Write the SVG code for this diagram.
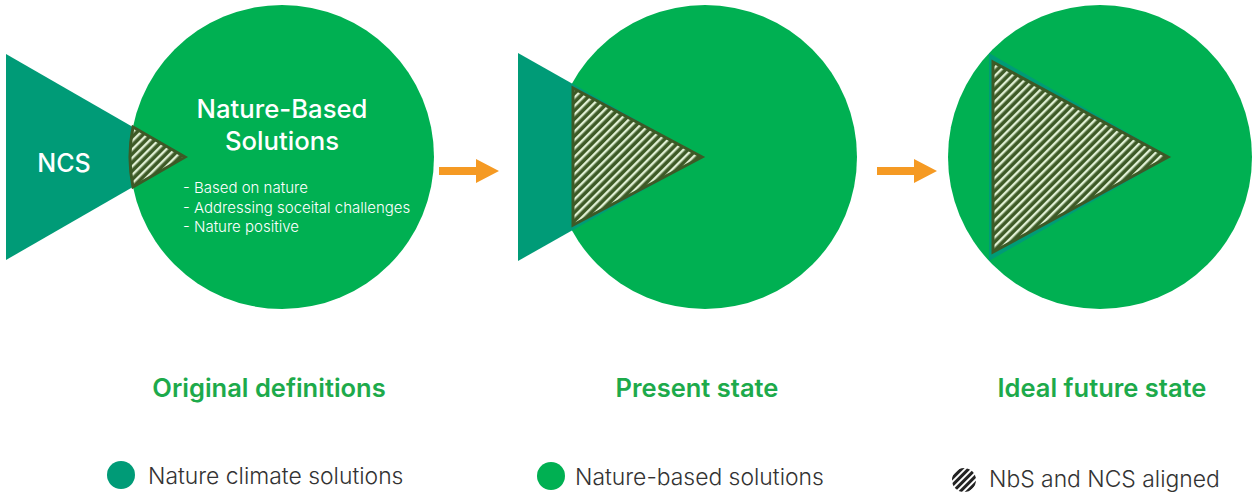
<svg xmlns="http://www.w3.org/2000/svg" width="1252" height="493" viewBox="0 0 1252 493">
<style>
.teal{fill:#009b77}
.green{fill:#00b052}
.hatch{fill:url(#hatch);stroke:#3d5a26;stroke-width:3;stroke-linejoin:miter}
.arrow{fill:#f59a23}
.title{font-family:Inter,"Liberation Sans",sans-serif;font-weight:600;font-size:25.5px;fill:#1daa4b;text-anchor:middle}
.white{font-family:Inter,"Liberation Sans",sans-serif;fill:#ffffff}
.legend{font-family:Inter,"Liberation Sans",sans-serif;font-size:22.9px;fill:#333333;font-weight:300}
</style>
<defs>
<pattern id="hatch" patternUnits="userSpaceOnUse" width="6" height="6" patternTransform="rotate(45)">
<rect width="6" height="6" fill="#3d5a26"/>
<rect x="0" y="0" width="2.4" height="6" fill="#e0f0d4"/>
</pattern>
<pattern id="hatchL" patternUnits="userSpaceOnUse" width="5" height="5" patternTransform="rotate(45)">
<rect width="5" height="5" fill="#ffffff"/>
<rect x="0" y="0" width="3" height="5" fill="#222222"/>
</pattern>
</defs>

<g id="panel1">
<circle class="green" cx="282" cy="157" r="152"/>
<polygon class="teal" points="6,54 185,157 6,260"/>
<path class="hatch" d="M133,127 L185,157 L133,187 A152,152 0 0 1 133,127 Z"/>
<text class="white" x="64" y="172" font-size="25" text-anchor="middle" font-weight="500">NCS</text>
<text class="white" x="282" y="118" font-size="25.7" text-anchor="middle" font-weight="500">Nature-Based</text>
<text class="white" x="282" y="150" font-size="25.7" text-anchor="middle" font-weight="500">Solutions</text>
<text class="white" x="183" y="193" font-size="15" font-weight="300">- Based on nature</text>
<text class="white" x="183" y="213" font-size="15" font-weight="300">- Addressing soceital challenges</text>
<text class="white" x="183" y="232" font-size="15" font-weight="300">- Nature positive</text>
</g>

<g id="panel2">
<circle class="green" cx="705" cy="157" r="152"/>
<polygon class="teal" points="518,53 702,157 518,261"/>
<polygon class="hatch" points="573,88 702,157 573,225"/>
</g>

<g id="panel3">
<circle class="green" cx="1100" cy="157" r="152"/>
<polygon class="teal" points="989,53 1170,157 989,261"/>
<polygon class="hatch" points="993,62 1168,157 993,252"/>
</g>

<g id="connectors">
<polygon class="arrow" points="439,167 476,167 476,159 499,171 476,183 476,175 439,175"/>
<polygon class="arrow" points="877,167 914,167 914,159 937,171 914,183 914,175 877,175"/>
</g>

<g id="labels">
<text class="title" x="269" y="397">Original definitions</text>
<text class="title" x="697" y="397">Present state</text>
<text class="title" x="1102" y="397">Ideal future state</text>
</g>

<g id="legend">
<circle class="teal" cx="121" cy="475" r="14"/>
<text class="legend" x="148" y="484">Nature climate solutions</text>
<circle class="green" cx="551" cy="476" r="14"/>
<text class="legend" x="575" y="485">Nature-based solutions</text>
<circle cx="964" cy="480" r="12" fill="url(#hatchL)"/>
<text class="legend" x="989" y="487" font-size="22.5">NbS and NCS aligned</text>
</g>
</svg>
